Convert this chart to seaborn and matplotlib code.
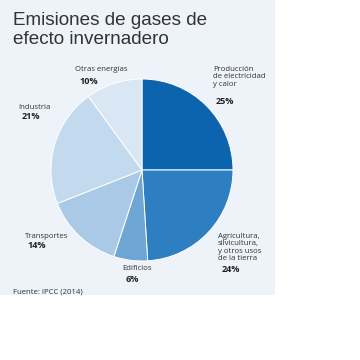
import numpy as np
from matplotlib import pyplot as plt
import seaborn as sns

sns.set_theme(style="white")
plt.rcParams["font.family"] = ["Liberation Sans", "DejaVu Sans"]

# data
sectors = [
    "Producción\nde electricidad\ny calor",
    "Agricultura,\nsilvicultura,\ny otros usos\nde la tierra",
    "Edificios",
    "Transportes",
    "Industria",
    "Otras energías",
]
shares = [25, 24, 6, 14, 21, 10]
pct_labels = ["25%", "24%", "6%", "14%", "21%", "10%"]
colors = ["#0b64ad", "#2d7fc1", "#70a6d3", "#a9c9e7", "#c3d9ee", "#d9e7f4"]

W = H = 360
fig = plt.figure(figsize=(3.6, 3.6), dpi=100)
fig.patch.set_facecolor("white")

# light panel behind the chart
bg = fig.add_axes([0, 1 - 295 / H, 275 / W, 295 / H], zorder=0)
bg.set_facecolor("#eef3f9")
bg.set_xticks([])
bg.set_yticks([])
for s in bg.spines.values():
    s.set_visible(False)

cx, cy, r = 142, 170, 91
ax = fig.add_axes([(cx - r) / W, 1 - (cy + r) / H, 2 * r / W, 2 * r / H], zorder=1)
ax.pie(
    shares,
    colors=colors,
    startangle=90,
    counterclock=False,
    radius=1,
    wedgeprops=dict(edgecolor="white", linewidth=0.7),
)
ax.set_xlim(-1, 1)
ax.set_ylim(-1, 1)
ax.set_aspect("equal")
ax.axis("off")


def px(x, y):
    return x / W, 1 - y / H


fig.text(*px(13, 12), "Emisiones de gases de\nefecto invernadero",
         fontsize=13.6, color="#333333", va="top", ha="left", linespacing=1.12)

# (name x, name top y, pct x, pct center y)
pos = [
    (213, 66, 216, 102),
    (218, 233, 222, 270),
    (122, 265, 126, 279),
    (25, 233, 27, 245),
    (18, 104, 22, 117),
    (75, 66, 80, 81),
]
lab_font = ["Open Sans", "DejaVu Sans"]
for name, pct, (nx, ny, qx, qy) in zip(sectors, pct_labels, pos):
    fig.text(*px(nx, ny), name, fontsize=5.6, color="#333333", va="top",
             ha="left", linespacing=1.1, family=lab_font)
    fig.text(*px(qx, qy), pct, fontsize=6.6, color="#222222", va="center",
             ha="left", fontweight="bold", family=lab_font)

fig.text(*px(13, 292), "Fuente: IPCC (2014)", fontsize=5.6, color="#333333",
         va="center", ha="left", family=lab_font)

plt.savefig("out.png", dpi=100)
plt.close()
